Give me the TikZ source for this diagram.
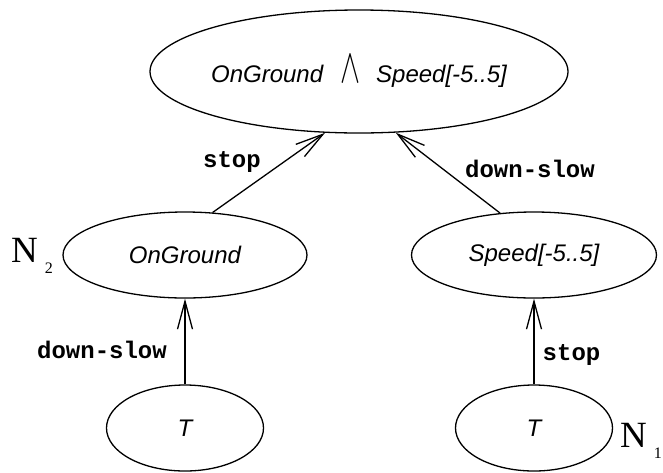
\documentclass[tikz,border=0pt]{standalone}
\usepackage{fontspec}
\usepackage{graphicx}
\setmainfont{Liberation Serif}
\newfontfamily\propfont{Liberation Sans}
\newfontfamily\edgefont{Liberation Mono}
\newfontfamily\markfont{Liberation Serif}
\usetikzlibrary{shapes.geometric,arrows.meta}

\begin{document}
\begin{tikzpicture}[x=1pt,y=-1pt,
  state/.style={ellipse,draw,line width=1.3pt,inner sep=0pt,
    font=\propfont\itshape\fontsize{24}{24}\selectfont},
  edgelbl/.style={anchor=base,inner sep=0pt,
    font=\edgefont\bfseries\fontsize{24}{24}\selectfont},
  trans/.style={line width=1.3pt,-{Straight Barb[length=28pt,width=15pt]}},
  nodemark/.style={anchor=base west,inner sep=0pt,
    font=\markfont\fontsize{37}{37}\selectfont}]
\useasboundingbox (0,0) rectangle (663,472);

% states
\node[state,minimum width=418pt,minimum height=123pt] (conj) at (359,71.5)
  {\makebox[0pt]{OnGround\hspace{17pt}\resizebox{20pt}{27pt}{$\wedge$}\hspace{16pt}Speed[-5..5]}};
\node[state,minimum width=244pt,minimum height=86pt] (ground) at (185,255) {OnGround};
\node[state,minimum width=245pt,minimum height=86pt] (speed) at (534,255) {Speed[-5..5]};
\node[state,minimum width=157pt,minimum height=86pt] (topl) at (185,428) {T};
\node[state,minimum width=157pt,minimum height=86pt] (topr) at (534,428) {T};

% transitions
\draw[trans] (topl.north) -- (ground.south);
\draw[trans] (topr.north) -- (speed.south);
\draw[trans] (ground.57.9) -- (conj.241.1);
\draw[trans] (speed.129.5) -- (conj.-59.7);

% transition labels
\node[edgelbl] (lstopa) at (232,167) {stop};
\node[edgelbl] (ldowna) at (530,177) {down-slow};
\node[edgelbl] (ldownb) at (102,358) {down-slow};
\node[edgelbl] (lstopb) at (571.5,360) {stop};

% node marks
\node[nodemark] (ntwo) at (11,262) {N\kern7pt\raisebox{-11pt}{\fontsize{16}{16}\selectfont 2}};
\node[nodemark] (none) at (620,447) {N\kern7pt\raisebox{-11pt}{\fontsize{16}{16}\selectfont 1}};
\end{tikzpicture}
\end{document}
